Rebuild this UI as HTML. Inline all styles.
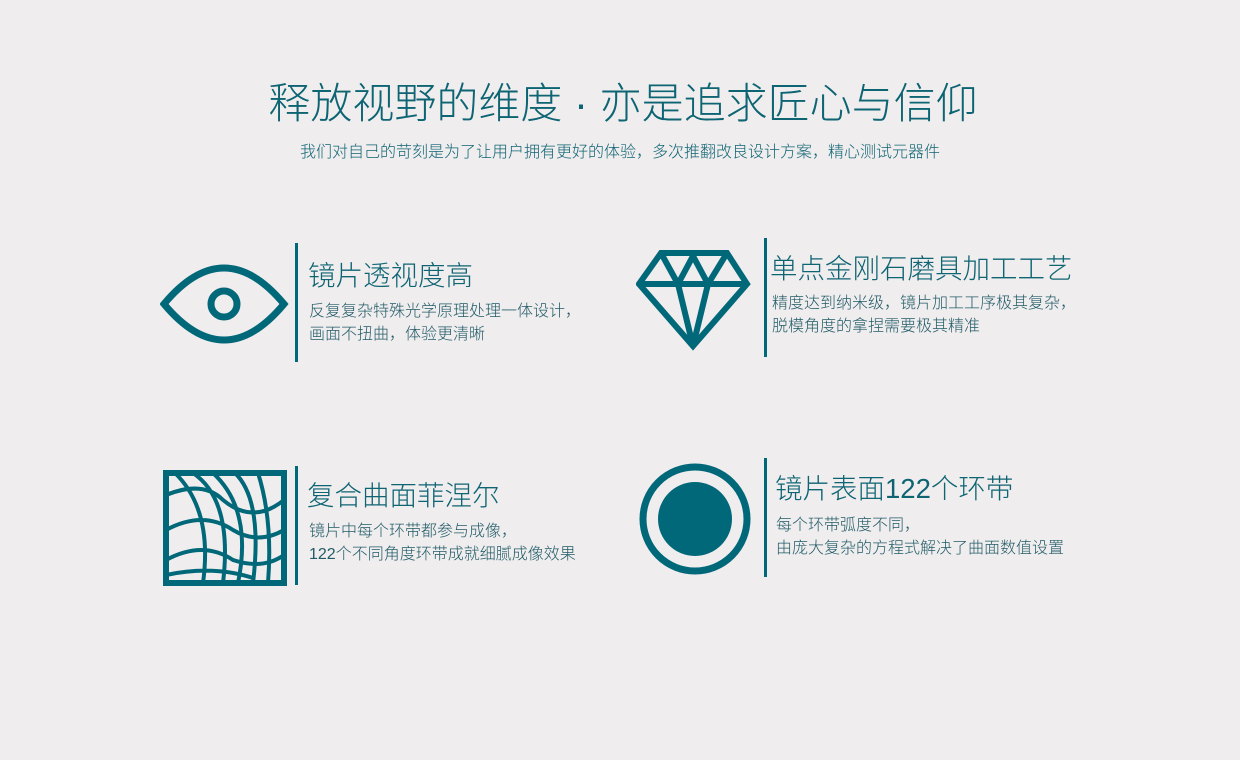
<!DOCTYPE html>
<html><head><meta charset="utf-8"><style>
body{margin:0;width:1240px;height:760px;background:#f0edee;position:relative;overflow:hidden;font-family:"Liberation Sans","Noto Sans CJK SC",sans-serif;color:#0d6473;font-weight:300}
.a{position:absolute;white-space:nowrap}
.t{font-size:27.5px;}
.d{font-size:16px;line-height:23px;color:#1f5a66}
.bar{position:absolute;width:3px;background:#006878}
svg{position:absolute}
</style></head><body>
<div class="a" style="left:3px;width:1240px;text-align:center;top:70px;font-size:42px;letter-spacing:0px;">释放视野的维度 · 亦是追求匠心与信仰</div>
<div class="a" style="left:0;width:1240px;text-align:center;top:138px;font-size:16px;">我们对自己的苛刻是为了让用户拥有更好的体验，多次推翻改良设计方案，精心测试元器件</div>

<svg style="left:160px;top:262px" width="130" height="84" viewBox="0 0 130 84"><path d="M4 42 Q64 -30 124 42 Q64 114 4 42Z" fill="none" stroke="#006878" stroke-width="7"/><circle cx="64" cy="42" r="13" fill="none" stroke="#006878" stroke-width="7"/></svg>
<div class="bar" style="left:295px;top:243px;height:119px"></div>
<div class="a t" style="left:308px;top:253px">镜片透视度高</div>
<div class="a d" style="left:309px;top:300px">反复复杂特殊光学原理处理一体设计，<br>画面不扭曲，体验更清晰</div>

<svg style="left:636px;top:248px" width="116" height="104" viewBox="0 0 116 104"><g fill="none" stroke="#006878" stroke-width="6" stroke-linejoin="miter"><path d="M25 5 H91 L111 36 L57 98 L3 36Z"/><path d="M3 36 H111 M25 5 L42 36 L57 98 L72 36 L91 5 M42 36 L57 8 L72 36"/></g></svg>
<div class="bar" style="left:764px;top:238px;height:119px"></div>
<div class="a t" style="left:770px;top:246px">单点金刚石磨具加工工艺</div>
<div class="a d" style="left:772px;top:292px">精度达到纳米级，镜片加工工序极其复杂，<br>脱模角度的拿捏需要极其精准</div>

<svg style="left:163px;top:470px" width="124" height="116" viewBox="0 0 124 116"><g fill="none" stroke="#006878" stroke-width="4"><rect x="3" y="3" width="118" height="110" stroke-width="6"/><path d="M12 3 Q50 40 40 113 M30 3 Q70 30 60 113 M50 3 Q90 40 75 113 M72 3 Q100 30 90 113 M95 3 Q110 50 105 113 M3 25 Q40 10 60 30 Q90 55 121 30 M3 60 Q40 40 70 60 Q95 75 121 60 M3 90 Q40 70 70 90 Q100 100 121 85 M3 105 Q50 95 90 108"/></g></svg>
<div class="bar" style="left:295px;top:466px;height:119px"></div>
<div class="a t" style="left:307px;top:473px">复合曲面菲涅尔</div>
<div class="a d" style="left:309px;top:520px">镜片中每个环带都参与成像，<br>122个不同角度环带成就细腻成像效果</div>

<svg style="left:638px;top:462px" width="114" height="114" viewBox="0 0 114 114"><circle cx="57" cy="57" r="52" fill="none" stroke="#006878" stroke-width="7"/><circle cx="57" cy="57" r="37" fill="#006878"/></svg>
<div class="bar" style="left:764px;top:458px;height:119px"></div>
<div class="a t" style="left:775px;top:466px">镜片表面122个环带</div>
<div class="a d" style="left:776px;top:514px">每个环带弧度不同，<br>由庞大复杂的方程式解决了曲面数值设置</div>
</body></html>
